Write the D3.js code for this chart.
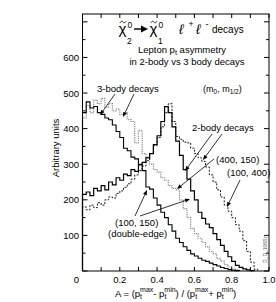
<!DOCTYPE html>
<html><head><meta charset="utf-8">
<script src="https://cdn.jsdelivr.net/npm/d3@7"></script>
<style>body{margin:0;background:#fff}svg{display:block}text{font-family:"Liberation Sans",Arial,sans-serif}</style>
</head><body><svg id="c" width="276" height="302"></svg>
<script>
const binWidth = 0.02;
const xTicks = [0, 0.2, 0.4, 0.6, 0.8, 1.0];
const yTicks = [100, 200, 300, 400, 500, 600];
// (100,150) 3-body part, solid
const threeBody100_150 = [445,475,458,462,445,440,430,425,410,392,375,345,338,320,315,300,282,236,230,205,185,165,150,130,112,92,80,68,58,48,42,36,30,27,22,18,14,10,7,4,2,1];
// (400,150) 3-body, grey dotted
const threeBody400_150 = [430,465,445,480,470,485,460,470,450,455,440,445,425,420,360,395,330,320,300,285,278,262,255,240,232,228,200,175,150,120,105,92,80,68,55,48,35,28,18,12,6,3];
// (100,150) 2-body part, solid
const twoBody100_150 = [215,222,212,232,225,240,228,250,242,262,255,272,268,285,280,298,305,318,330,355,380,420,462,445,405,365,325,285,258,225,200,165,148,132,122,105,88,72,55,40,27,16,10,6,3,1];
// (100,400) 2-body, dashed
const twoBody100_400 = [180,172,185,178,192,185,200,208,205,218,225,235,245,258,270,282,295,310,330,352,375,405,445,470,420,378,370,362,360,345,330,318,308,292,270,250,228,208,185,168,150,130,112,85,55,25,5];

const m={l:82.5,r:269,t:14,b:271};
const x=d3.scaleLinear().domain([0,1]).range([m.l,m.r]);
const y=d3.scaleLinear().domain([0,722]).range([m.b,m.t]);
const svg=d3.select("#c");

function stepPath(vals){
  const pts=[[0,0]];
  vals.forEach((v,i)=>{pts.push([i*binWidth,v]);pts.push([(i+1)*binWidth,v]);});
  pts.push([vals.length*binWidth,0]);
  return d3.line().x(d=>x(d[0])).y(d=>y(d[1]))(pts);
}
function drawHist(vals, opts){
  svg.append("path").attr("d",stepPath(vals)).attr("fill","none")
    .attr("stroke",opts.color).attr("stroke-width",opts.w)
    .attr("stroke-dasharray",opts.dash||null);
}
drawHist(threeBody400_150,{color:"#8a8a8a",w:1.2,dash:"1.2,1"});
drawHist(twoBody100_400,{color:"#000",w:0.9,dash:"2,1.5"});
drawHist(threeBody100_150,{color:"#000",w:1.1});
drawHist(twoBody100_150,{color:"#000",w:1.2});

// frame
svg.append("rect").attr("x",m.l).attr("y",m.t).attr("width",m.r-m.l).attr("height",m.b-m.t)
  .attr("fill","none").attr("stroke","#000").attr("stroke-width",1);
// ticks
d3.range(0,11).forEach(k=>{
  const v=k/10;
  svg.append("line").attr("x1",x(v)).attr("x2",x(v)).attr("y1",m.b).attr("y2",m.b-4).attr("stroke","#000");
  svg.append("line").attr("x1",x(v)).attr("x2",x(v)).attr("y1",m.t).attr("y2",m.t+4).attr("stroke","#000");
});
d3.range(0,15).forEach(k=>{
  const v=k*50, len = v%100===0?5:3;
  svg.append("line").attr("x1",m.l).attr("x2",m.l+len).attr("y1",y(v)).attr("y2",y(v)).attr("stroke","#000");
  svg.append("line").attr("x1",m.r).attr("x2",m.r-len).attr("y1",y(v)).attr("y2",y(v)).attr("stroke","#000");
});
xTicks.forEach(v=>{
  svg.append("text").attr("x",v===0?x(v)-6:x(v)).attr("y",283).attr("text-anchor","middle")
    .attr("font-size",9.5).text(v===0?"0":v.toFixed(1));
});
yTicks.forEach(v=>{
  svg.append("text").attr("x",79).attr("y",y(v)+3.5).attr("text-anchor","end")
    .attr("font-size",9.5).text(v);
});
svg.append("text").attr("transform","translate(59,148) rotate(-90)").attr("text-anchor","middle")
  .attr("font-size",9.5).text("Arbitrary units");

// title pieces
function T(txt,xx,yy,fs,extra){const t=svg.append("text").attr("x",xx).attr("y",yy).attr("font-size",fs).text(txt);
  if(extra) Object.entries(extra).forEach(([k,v])=>t.attr(k,v)); return t;}
function tilde(cx,cy){
  svg.append("path").attr("d",`M${cx-3},${cy+0.8}C${cx-2},${cy-1.2} ${cx-1},${cy-1.2} ${cx},${cy}S${cx+2},${cy+1.2} ${cx+3},${cy-0.8}`)
    .attr("fill","none").attr("stroke","#000").attr("stroke-width",0.8);
}
T("χ",118.5,34,15);
tilde(123,22);
T("0",127.5,28,8.5);
T("2",127,43.5,8.5);
svg.append("line").attr("x1",134).attr("x2",143).attr("y1",29).attr("y2",29).attr("stroke","#000").attr("stroke-width",1.4);
svg.append("path").attr("d","M148,29L141,25.5L141,32.5Z").attr("fill","#000");
T("χ",149.5,34,15);
tilde(154,22);
T("0",158.5,28,8.5);
T("1",158,43.5,8.5);
T("ℓ",179,34,14,{"font-family":"DejaVu Serif","font-style":"italic"});
T("+",188.5,27,8.5);
T("ℓ",196,34,14,{"font-family":"DejaVu Serif","font-style":"italic"});
T("-",205.5,27,9);
T("decays",212,33,10);

const t2=svg.append("text").attr("x",182).attr("y",53).attr("text-anchor","middle").attr("font-size",9.5);
t2.append("tspan").text("Lepton p");
t2.append("tspan").attr("font-size",7.5).attr("dy",2).text("t");
t2.append("tspan").attr("dy",-2).text("  asymmetry");
svg.append("text").attr("x",187).attr("y",65).attr("text-anchor","middle").attr("font-size",9.5).text("in 2-body vs 3 body decays");

const t3=svg.append("text").attr("x",203).attr("y",92).attr("font-size",9);
t3.append("tspan").text("(m");
t3.append("tspan").attr("font-size",6.5).attr("dy",2).text("0");
t3.append("tspan").attr("dy",-2).text(", m");
t3.append("tspan").attr("font-size",6.5).attr("dy",2).text("1/2");
t3.append("tspan").attr("dy",-2).text(")");

// x-axis title
const xa=svg.append("text").attr("x",115).attr("y",297).attr("font-size",9.5);
xa.append("tspan").text("A =  (p");
xa.append("tspan").attr("font-size",7).attr("dy",2).text("t");
xa.append("tspan").attr("font-size",7).attr("dy",-7).attr("dx",-2).text("max");
xa.append("tspan").attr("dy",5).text("- p");
xa.append("tspan").attr("font-size",7).attr("dy",2).text("t");
xa.append("tspan").attr("font-size",7).attr("dy",-7).attr("dx",-2).text("min");
xa.append("tspan").attr("dy",5).text(") / (p");
xa.append("tspan").attr("font-size",7).attr("dy",2).text("t");
xa.append("tspan").attr("font-size",7).attr("dy",-7).attr("dx",-2).text("max");
xa.append("tspan").attr("dy",5).text("+ p");
xa.append("tspan").attr("font-size",7).attr("dy",2).text("t");
xa.append("tspan").attr("font-size",7).attr("dy",-7).attr("dx",-2).text("min");
xa.append("tspan").attr("dy",5).text(")");

function label(txt,xx,yy){svg.append("text").attr("x",xx).attr("y",yy).attr("font-size",9.5).text(txt);}
label("3-body decays",97,92);
label("2-body decays",192,131);
label("(400, 150)",216,163);
label("(100, 400)",227,176);
label("(100, 150)",115,226);
label("(double-edge)",108,237);

// arrows
const arrows=[[115,94,100,115],[134,94,123,117],[212,134,185,171],[222,134,203,160],[214,159,177,189],[240,180,227,207],[135,216,147,190],[140,216,190,199]];
arrows.forEach(a=>{
  const [x1,y1,x2,y2]=a;
  const ang=Math.atan2(y2-y1,x2-x1);
  const L=5,Wd=2;
  const bx=x2-L*Math.cos(ang), by=y2-L*Math.sin(ang);
  svg.append("line").attr("x1",x1).attr("y1",y1).attr("x2",bx).attr("y2",by).attr("stroke","#000").attr("stroke-width",0.8);
  const px=-Math.sin(ang)*Wd, py=Math.cos(ang)*Wd;
  svg.append("path").attr("d",`M${x2},${y2}L${bx+px},${by+py}L${bx-px},${by-py}Z`).attr("fill","#000");
});
svg.append("text").attr("transform","translate(267,263) rotate(-90)").attr("font-size",5).attr("fill","#555").text("D_D_1068.n");
</script></body></html>
